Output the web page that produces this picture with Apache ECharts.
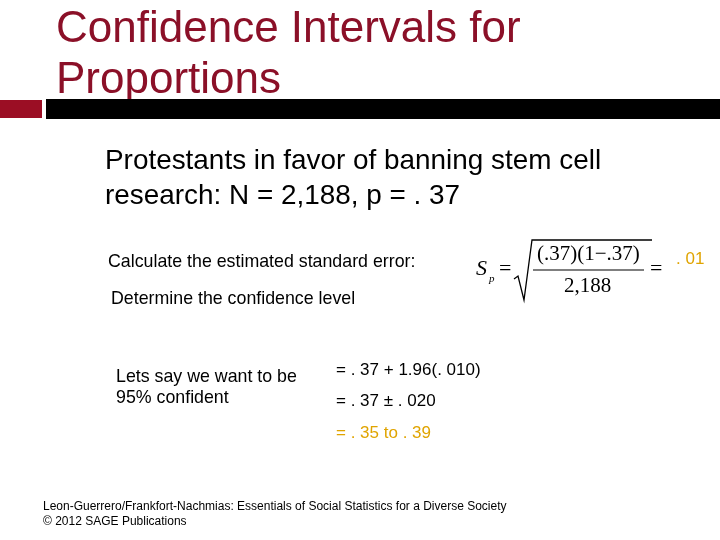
<!DOCTYPE html>
<html><head><meta charset="utf-8">
<script src="https://cdn.jsdelivr.net/npm/echarts@6/dist/echarts.min.js"></script>
<style>html,body{margin:0;padding:0;background:#fff}#c{width:720px;height:540px}</style>
</head><body><div id="c"></div>
<script>
const titleLines = ['Confidence Intervals for', 'Proportions'];
const introLines = ['Protestants in favor of banning stem cell', 'research: N = 2,188, p = . 37'];
const steps = ['Calculate the estimated standard error:', 'Determine the confidence level'];
const leftNote = ['Lets say we want to be', '95% confident'];
const calcLines = ['= . 37 + 1.96(. 010)', '= . 37 ± . 020'];
const resultText = '= . 35 to . 39';
const seResult = '. 01';
const footer = ['Leon-Guerrero/Frankfort-Nachmias: Essentials of Social Statistics for a Diverse Society', '© 2012 SAGE Publications'];
const sans = 'Arial, "Liberation Sans", sans-serif';
const serif = '"Times New Roman", "Liberation Serif", serif';
function t(x,y,s,size,color,font,extra){return Object.assign({type:'text',left:x,top:y,style:{text:s,fontSize:size,fill:color||'#000',fontFamily:font||sans}},extra||{});}
const g = [];
g.push(t(56,8,titleLines[0],44,'#8b1028'));
g.push(t(56,59,titleLines[1],44,'#8b1028'));
g.push({type:'rect',shape:{x:0,y:100,width:42,height:18},style:{fill:'#9b0e24'}});
g.push({type:'rect',shape:{x:46,y:99,width:674,height:20},style:{fill:'#000'}});
g.push(t(105,147,introLines[0],27.9));
g.push(t(105,182,introLines[1],27.9));
g.push(t(108,253,steps[0],17.8));
g.push(t(111,290,steps[1],17.8));
g.push(t(116,368,leftNote[0],17.8));
g.push(t(116,389,leftNote[1],17.8));
g.push(t(336,362,calcLines[0],17));
g.push(t(336,393,calcLines[1],17));
g.push(t(336,425,resultText,17,'#e0a400'));
g.push(t(676,251,seResult,17,'#e0a400'));
g.push(t(43,501,footer[0],12));
g.push(t(43,516,footer[1],12));
// formula
g.push(t(476,258,'S',22,'#000',serif,{style:{text:'S',fontSize:22,fill:'#000',fontFamily:serif,fontStyle:'italic'}}));
g.push(t(489,274,'p',11,'#000',serif,{style:{text:'p',fontSize:11,fill:'#000',fontFamily:serif,fontStyle:'italic'}}));
g.push(t(499,258,'=',22,'#000',serif));
g.push({type:'polyline',shape:{points:[[514,279],[518,276],[524,300],[532,240],[652,240]]},style:{stroke:'#000',lineWidth:1.3,fill:null}});
g.push(t(537,244,'(.37)(1\u2212.37)',21,'#000',serif));
g.push({type:'line',shape:{x1:533,y1:270,x2:644,y2:270},style:{stroke:'#000',lineWidth:1.2}});
g.push(t(564,276,'2,188',21,'#000',serif));
g.push(t(650,258,'=',22,'#000',serif));
const chart = echarts.init(document.getElementById('c'));
chart.setOption({backgroundColor:'#fff',graphic:g});
</script></body></html>
